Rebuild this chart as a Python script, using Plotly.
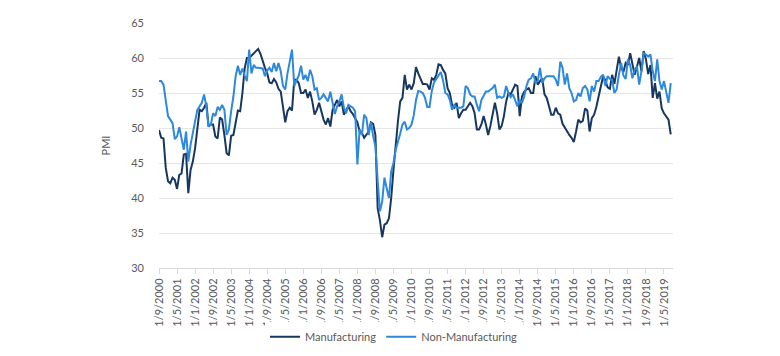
import plotly.graph_objects as go
import pandas as pd

# Monthly data, Sep 2000 .. Aug 2019
months = pd.date_range("2000-09-01", "2019-08-01", freq="MS")
month_labels = [f"{d.day}/{d.month}/{d.year}" for d in months]

manufacturing = [
    49.7, 48.6, 48.5, 44.3, 42.4, 42.1, 42.9, 42.6, 41.3, 43.3, 43.5, 46.2,
    46.3, 40.7, 44.0, 45.2, 47.1, 50.2, 52.6, 52.4, 52.9, 53.6, 50.2, 50.5,
    50.5, 48.8, 48.5, 51.5, 51.2, 49.0, 46.4, 46.1, 48.9, 49.0, 51.1, 52.5,
    52.4, 55.0, 58.5, 60.0, 60.0, 60.3, 60.7, 60.9, 61.3, 60.6, 59.5, 58.6,
    57.8, 56.5, 56.4, 57.0, 56.5, 55.6, 55.2, 53.0, 50.8, 52.4, 52.9, 52.5,
    56.9, 56.9, 56.4, 55.0, 55.0, 55.5, 54.3, 55.2, 53.8, 51.9, 52.6, 53.6,
    52.4, 51.2, 50.5, 51.4, 50.2, 52.6, 53.3, 54.0, 53.1, 53.8, 51.9, 52.4,
    53.1, 52.4, 52.0, 51.4, 50.8, 49.5, 49.3, 48.6, 49.0, 49.5, 50.8, 50.6,
    49.0, 38.5, 36.8, 34.4, 36.2, 36.4, 37.1, 40.0, 44.0, 48.0, 51.0, 53.8,
    54.3, 57.6, 55.5, 56.2, 55.5, 56.4, 58.7, 57.8, 57.1, 56.3, 56.3, 56.2,
    55.5, 57.1, 56.9, 57.6, 59.1, 59.0, 58.3, 57.8, 55.7, 55.0, 53.3, 52.9,
    53.6, 51.4, 52.1, 52.6, 52.6, 53.1, 53.6, 53.1, 52.1, 49.8, 49.8, 50.5,
    51.7, 50.5, 49.0, 50.3, 52.0, 53.6, 52.1, 49.8, 50.3, 51.7, 53.8, 55.0,
    54.8, 55.5, 56.2, 56.0, 51.7, 54.5, 55.2, 55.5, 55.7, 55.0, 55.0, 57.4,
    56.2, 56.7, 57.1, 54.8, 54.3, 53.1, 51.9, 51.9, 52.9, 52.1, 51.9, 50.6,
    50.0, 49.5, 49.0, 48.6, 48.0, 49.5, 51.2, 50.8, 51.0, 52.8, 52.5, 49.5,
    51.4, 51.9, 53.0, 54.5, 56.0, 57.4, 56.8, 55.8, 55.6, 57.6, 56.3, 58.5,
    60.2, 58.6, 58.0, 59.3, 59.0, 60.7, 59.3, 57.6, 58.7, 60.0, 58.1, 61.0,
    59.8, 57.7, 59.0, 54.3, 56.4, 54.2, 55.2, 52.8, 52.1, 51.7, 51.2, 49.1,
]

non_manufacturing = [
    56.7, 56.7, 56.2, 54.0, 51.7, 51.2, 50.7, 48.4, 48.8, 50.1, 48.6, 46.9,
    49.5, 45.2, 47.6, 49.3, 50.9, 52.6, 53.1, 53.6, 54.8, 53.1, 50.2, 50.5,
    52.1, 51.7, 53.0, 52.6, 53.3, 52.6, 49.0, 49.8, 52.4, 54.5, 57.4, 58.9,
    57.6, 58.5, 57.5, 56.7, 61.2, 57.8, 59.0, 58.6, 58.6, 58.6, 58.5, 57.4,
    58.2, 58.6, 58.0, 59.3, 58.1, 59.3, 58.1, 56.0, 55.5, 57.8, 59.3, 61.2,
    56.0, 56.9, 57.5, 58.9, 56.9, 57.6, 56.7, 58.3, 57.4, 55.5, 55.7, 54.0,
    54.3, 54.8, 54.3, 53.8, 55.2, 53.8, 52.0, 53.1, 53.8, 54.8, 52.9, 52.1,
    53.3, 53.1, 52.9, 52.4, 44.8, 49.8, 49.0, 51.9, 51.4, 49.0, 50.8, 48.8,
    47.4, 42.4, 38.1, 39.5, 42.9, 41.4, 40.0, 43.8, 45.0, 46.9, 47.9, 49.2,
    50.5, 50.9, 49.8, 50.0, 50.5, 51.8, 54.0, 55.3, 55.2, 55.0, 54.3, 53.0,
    53.0, 55.3, 56.5, 57.0, 57.4, 58.0, 56.8, 55.0, 54.8, 54.0, 52.6, 53.3,
    52.9, 52.9, 52.9, 53.1, 56.0, 55.7, 54.8, 54.5, 54.5, 53.3, 52.4, 54.0,
    54.5, 55.2, 55.2, 55.5, 55.7, 56.2, 54.3, 54.5, 54.3, 54.5, 56.0, 55.0,
    54.4, 54.8, 53.8, 53.1, 54.0, 53.6, 54.5, 56.0, 56.9, 57.1, 57.8, 56.5,
    56.7, 58.6, 56.4, 57.1, 57.4, 57.4, 57.4, 57.4, 56.9, 56.0, 59.5, 58.6,
    56.2, 57.8, 55.7, 55.0, 53.8, 54.0, 55.0, 54.5, 55.7, 56.0, 55.5, 53.8,
    56.0, 55.2, 56.7, 56.7, 57.3, 57.6, 56.0, 57.4, 57.0, 56.9, 55.0, 55.5,
    57.6, 59.3, 57.5, 57.0, 59.8, 59.0, 57.1, 58.3, 58.8, 56.2, 58.1, 60.7,
    60.5, 60.2, 60.5, 58.1, 56.7, 59.8, 56.7, 55.5, 56.7, 55.0, 53.6, 56.4,
]

idx = list(range(len(months)))
tick_idx = idx[::8]
tick_text = [month_labels[i] for i in tick_idx]
y_ticks = [30, 35, 40, 45, 50, 55, 60, 65]

FONT = "Lato"
GREY = "#595959"

fig = go.Figure()
fig.add_trace(go.Scatter(x=idx, y=manufacturing, mode="lines", name="Manufacturing",
                         line=dict(color="#17375e", width=2)))
fig.add_trace(go.Scatter(x=idx, y=non_manufacturing, mode="lines", name="Non-Manufacturing",
                         line=dict(color="#2e88dc", width=2)))

# page body has an 8px margin, so the figure is sized / offset to compensate
fig.update_layout(
    width=772, height=348,
    margin=dict(l=151, r=107, t=15, b=88, autoexpand=False),
    paper_bgcolor="white", plot_bgcolor="white",
    font=dict(family=FONT, size=11, color=GREY),
    showlegend=True,
    legend=dict(orientation="h", xref="container", yref="container",
                x=0.50, xanchor="center", y=0.055, yanchor="middle",
                font=dict(size=11, color=GREY), itemwidth=30, tracegroupgap=0),
)
fig.update_xaxes(
    range=[0, 228], tickmode="array", tickvals=tick_idx, ticktext=tick_text,
    tickangle=-90, showgrid=False, showline=True, linecolor="#d9d9d9", linewidth=1,
    ticks="outside", ticklen=5, tickcolor="#d9d9d9", zeroline=False, automargin=False,
    tickfont=dict(size=11, color=GREY),
)
fig.update_yaxes(
    range=[30, 65], tickmode="array", tickvals=y_ticks, showgrid=True,
    gridcolor="#e6e6e6", gridwidth=1, zeroline=False, showline=False, automargin=False,
    ticklabelstandoff=14, tickfont=dict(size=11, color=GREY),
    title=dict(text="PMI", standoff=18, font=dict(size=11, color=GREY)),
)

fig.write_html("out.html")
